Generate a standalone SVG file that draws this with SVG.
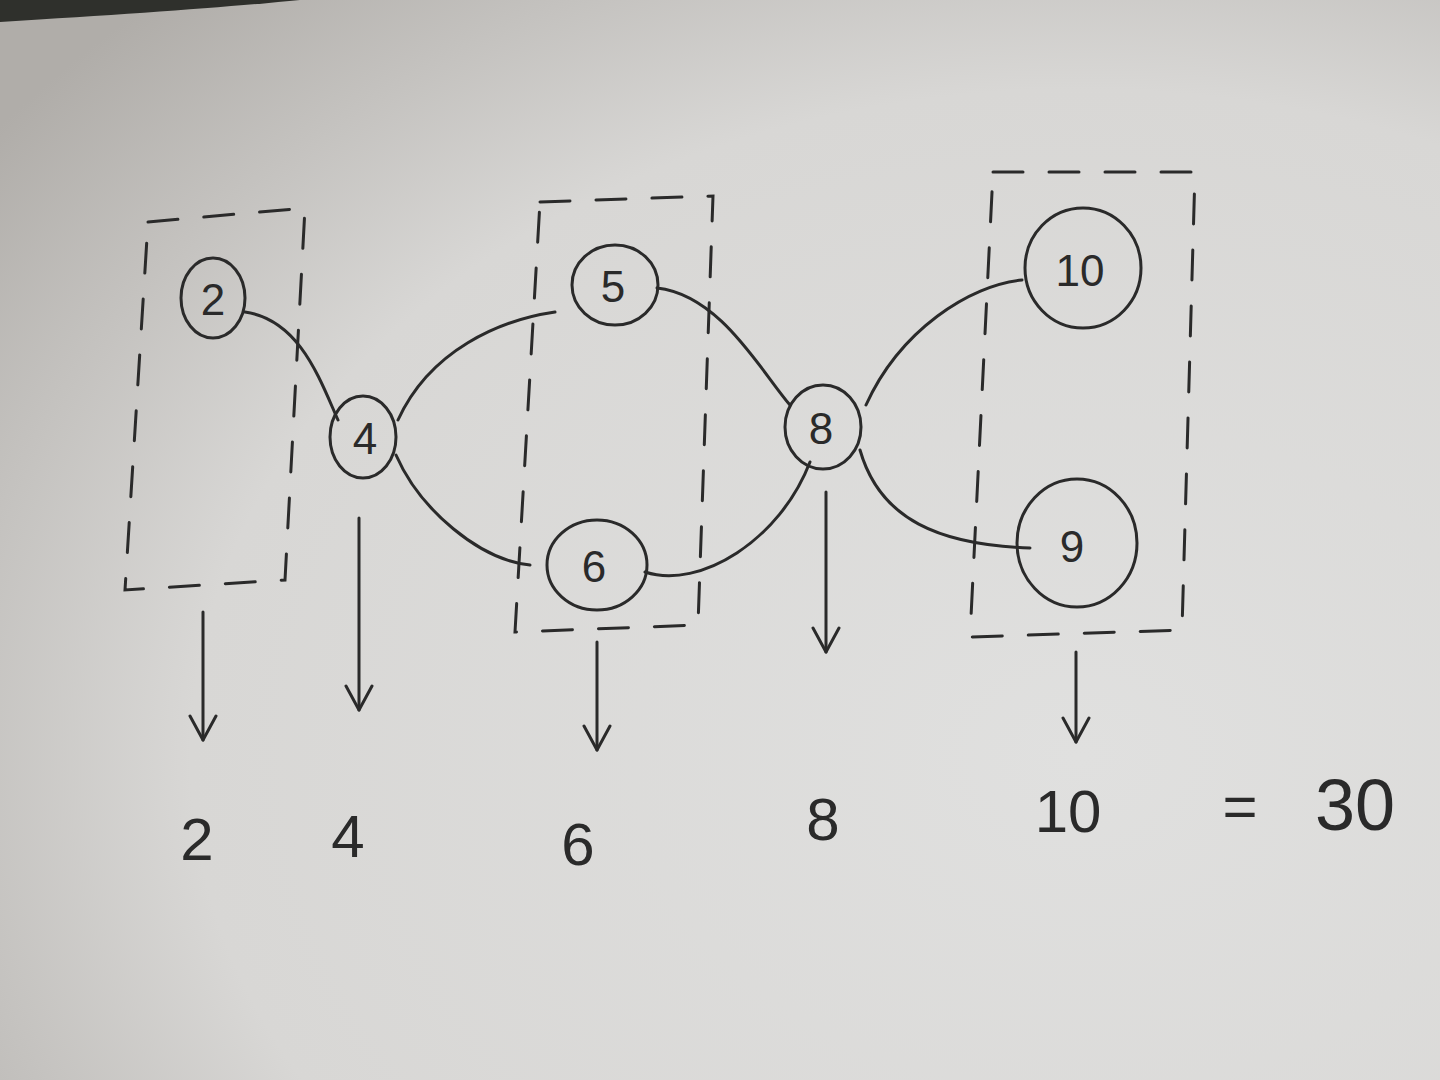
<svg xmlns="http://www.w3.org/2000/svg" width="1440" height="1080" viewBox="0 0 1440 1080">
<defs>
<radialGradient id="paper" cx="0.75" cy="0.7" r="0.95">
<stop offset="0" stop-color="#e0e0df"/>
<stop offset="0.65" stop-color="#d8d7d5"/>
<stop offset="1" stop-color="#b0ada9"/>
</radialGradient>
<marker id="v" viewBox="0 0 30 30" refX="28" refY="15" markerWidth="30" markerHeight="30" markerUnits="userSpaceOnUse" orient="auto">
<path d="M4,2 L28,15 L4,28" fill="none" stroke="#2a2a2a" stroke-width="3" stroke-linecap="round" stroke-linejoin="round"/>
</marker>
<style>
.ln{fill:none;stroke:#2a2a2a;stroke-width:3;stroke-linecap:round}
.box{fill:none;stroke:#2a2a2a;stroke-width:3;stroke-dasharray:30 26;stroke-linecap:round}
.nd{fill:none;stroke:#2a2a2a;stroke-width:3}
.t{font-family:"Liberation Sans",Arial,sans-serif;fill:#2a2a2a;text-anchor:middle;font-weight:300}
.tn{font-size:44px}
.tb{font-size:60px}
</style>
</defs>
<rect width="1440" height="1080" fill="url(#paper)"/>
<path d="M0,0 L300,0 Q200,10 0,22 Z" fill="#2f302c"/>
<g id="groups">
<path class="box" d="M148,222 L305,208 L285,580 L125,590 Z"/>
<path class="box" d="M540,202 L713,196 L698,625 L515,632 Z"/>
<path class="box" d="M993,172 L1195,172 L1182,630 L970,637 Z"/>
</g>
<g id="connectors">
<path class="ln" d="M245,312 C300,320 320,380 338,420"/>
<path class="ln" d="M398,420 C430,350 500,320 555,312"/>
<path class="ln" d="M396,455 C420,510 480,560 530,565"/>
<path class="ln" d="M657,288 C720,295 760,370 790,405"/>
<path class="ln" d="M645,572 C700,590 780,540 810,462"/>
<path class="ln" d="M866,405 C900,330 970,285 1022,280"/>
<path class="ln" d="M860,450 C880,520 940,545 1030,548"/>
<path class="ln" d="M203,612 L203,740" marker-end="url(#v)"/>
<path class="ln" d="M359,518 L359,710" marker-end="url(#v)"/>
<path class="ln" d="M597,642 L597,750" marker-end="url(#v)"/>
<path class="ln" d="M826,492 L826,652" marker-end="url(#v)"/>
<path class="ln" d="M1076,652 L1076,742" marker-end="url(#v)"/>
</g>
<g id="n2"><ellipse class="nd" cx="213" cy="298" rx="32" ry="40"/><text class="t tn" x="213" y="315">2</text></g>
<g id="n4"><ellipse class="nd" cx="363" cy="437" rx="33" ry="41"/><text class="t tn" x="365" y="454">4</text></g>
<g id="n5"><ellipse class="nd" cx="615" cy="285" rx="43" ry="40"/><text class="t tn" x="613" y="302">5</text></g>
<g id="n6"><ellipse class="nd" cx="597" cy="565" rx="50" ry="45"/><text class="t tn" x="594" y="582">6</text></g>
<g id="n8"><ellipse class="nd" cx="823" cy="427" rx="38" ry="42"/><text class="t tn" x="821" y="444">8</text></g>
<g id="n10"><ellipse class="nd" cx="1083" cy="268" rx="58" ry="60"/><text class="t tn" x="1080" y="286">10</text></g>
<g id="n9"><ellipse class="nd" cx="1077" cy="543" rx="60" ry="64"/><text class="t tn" x="1072" y="562">9</text></g>
<g id="result">
<text class="t tb" x="197" y="860">2</text>
<text class="t tb" x="348" y="857">4</text>
<text class="t tb" x="578" y="865">6</text>
<text class="t tb" x="823" y="840">8</text>
<text class="t tb" x="1068" y="832">10</text>
<text class="t tb" x="1240" y="827">=</text>
<text class="t tb" x="1355" y="830" style="font-size:72px">30</text>
</g>
</svg>
